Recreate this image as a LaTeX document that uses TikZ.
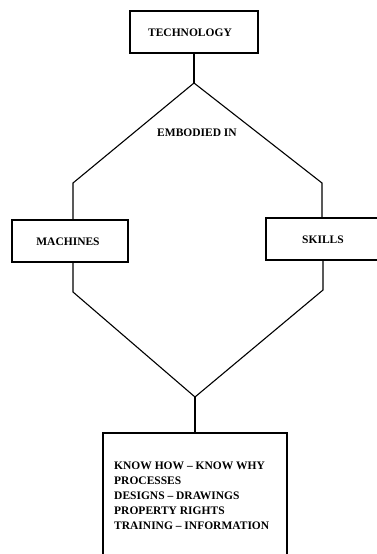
\documentclass[tikz,border=0pt]{standalone}
\usepackage{fontspec}
\setmainfont{Liberation Serif}
\begin{document}
\begin{tikzpicture}[x=1pt,y=-1pt,
  lbl/.style={font=\fontsize{11.5}{15}\selectfont\bfseries, inner sep=0pt},
  box/.style={draw, line width=1.1pt, rectangle, inner sep=0pt},
  link/.style={line width=1.1pt, line join=miter}]
  \useasboundingbox (0,0) rectangle (377,554);

  % boxes
  \node[box, minimum width=128pt, minimum height=42pt] (tech) at (194,32) {};
  \node[lbl] (techtxt) at (190,33) {TECHNOLOGY};
  \node[box, minimum width=116pt, minimum height=42pt] (mach) at (70,241) {};
  \node[lbl] (machtxt) at (68,242) {MACHINES};
  \node[box, minimum width=114pt, minimum height=42pt] (skil) at (323,239) {};
  \node[lbl] (skiltxt) at (323,240) {SKILLS};
  \node[box, minimum width=184pt, minimum height=140pt] (know) at (195,503) {};
  \node[lbl, align=left, anchor=west] (knowtxt) at (114,496)
    {KNOW HOW -- KNOW WHY\\PROCESSES\\DESIGNS -- DRAWINGS\\PROPERTY RIGHTS\\TRAINING -- INFORMATION};

  \node[lbl] (emb) at (197,133) {EMBODIED IN};

  % branch points
  \coordinate (apex) at (194,83);
  \coordinate (bendL) at (73,183);
  \coordinate (bendR) at (322,183);
  \coordinate (lowL) at (73,292);
  \coordinate (lowR) at (323,290);
  \coordinate (vbot) at (195,397);

  % connectors
  \draw[link] (tech.south -| apex) -- (apex);
  \draw[link] (apex) -- (bendL) -- (bendL |- mach.north);
  \draw[link] (apex) -- (bendR) -- (bendR |- skil.north);
  \draw[link] (lowL |- mach.south) -- (lowL) -- (vbot);
  \draw[link] (lowR |- skil.south) -- (lowR) -- (vbot);
  \draw[link] (vbot) -- (vbot |- know.north);
\end{tikzpicture}
\end{document}
